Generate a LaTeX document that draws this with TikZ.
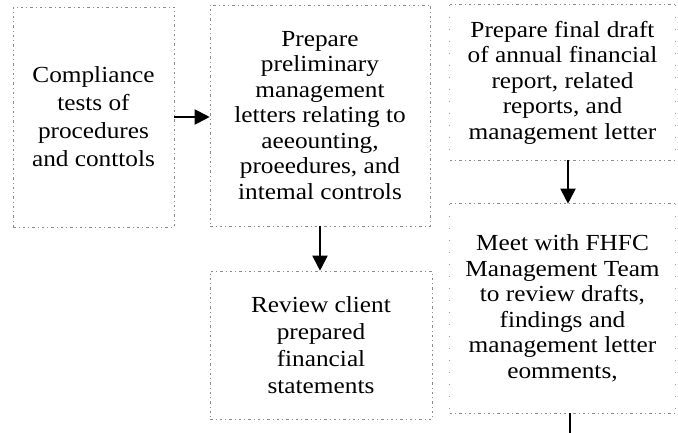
\documentclass[tikz,border=0pt]{standalone}
\usepackage{fontspec}
\setmainfont{Liberation Serif}[FakeStretch=1.1]
\usetikzlibrary{arrows.meta}
\begin{document}
\begin{tikzpicture}[x=1pt,y=-1pt,
  edge/.style={draw=black!45, line width=0.6pt,
    dash pattern=on 2.5pt off 3pt on 1pt off 3pt},
  faintedge/.style={draw=black!40, line width=0.6pt,
    dash pattern=on 1pt off 11pt},
  box/.style={edge, rectangle, inner sep=0pt, align=center, text=black,
    font=\fontsize{23}{25.5}\selectfont},
  openbox/.style={box, draw=none},
  arr/.style={line width=2pt, -{Triangle[length=15pt,width=15pt]}},
  plain/.style={line width=2pt}]
\useasboundingbox (0,0) rectangle (678,433);
\node[box, minimum width=161pt, minimum height=220pt,
      font=\fontsize{23}{28}\selectfont] (b1) at (93.5,117)
  {Compliance\\tests of\\procedures\\and conttols};
\node[box, minimum width=220pt, minimum height=221pt] (b2) at (320,115.5)
  {Prepare\\preliminary\\management\\letters relating to\\aeeounting,\\proeedures, and\\intemal controls};
\node[openbox, minimum width=225pt, minimum height=155pt] (b3) at (562.5,82.5)
  {Prepare final draft\\of annual financial\\report, related\\reports, and\\management letter};
\node[openbox, minimum width=225pt, minimum height=209pt] (b4) at (562.5,308.5)
  {Meet with FHFC\\Management Team\\to review drafts,\\findings and\\management letter\\eomments,};
\node[box, minimum width=222pt, minimum height=148pt,
      font=\fontsize{23}{27}\selectfont] (b5) at (321,345)
  {Review client\\prepared\\financial\\statements};
% borders of the right-hand boxes: visible top/bottom, faint sides
\draw[edge] (b3.north west) -- (b3.north east);
\draw[edge] (b3.south west) -- (b3.south east);
\draw[faintedge] (b3.north west) -- (b3.south west);
\draw[faintedge] (b3.north east) -- (b3.south east);
\draw[edge] (b4.north west) -- (b4.north east);
\draw[edge] (b4.south west) -- (b4.south east);
\draw[faintedge] (b4.north west) -- (b4.south west);
\draw[faintedge] (b4.north east) -- (b4.south east);
\coordinate (x34) at (568,0);
\coordinate (endln) at (570,433);
\draw[arr] (b1.east) -- (b1.east -| b2.west);
\draw[arr] (b2.south) -- (b2.south |- b5.north);
\draw[arr] (b3.south -| x34) -- (b4.north -| x34);
\draw[plain] (b4.south -| endln) -- (endln);
\end{tikzpicture}
\end{document}
